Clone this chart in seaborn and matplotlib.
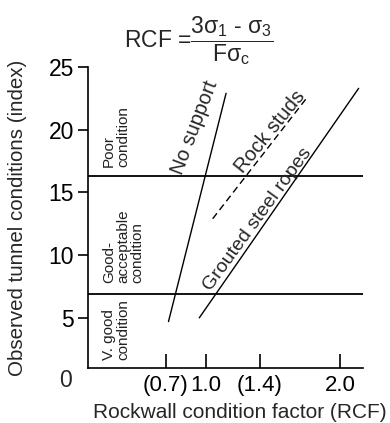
import numpy as np
import pandas as pd
import matplotlib.pyplot as plt
import matplotlib.transforms as mtransforms
import seaborn as sns

# support lines: (RCF, tunnel condition index)
no_support_rcf = [0.72, 1.15]
no_support_idx = [4.7, 22.9]
rock_studs_rcf = [1.05, 1.75]
rock_studs_idx = [12.9, 22.5]
grouted_rcf = [0.95, 2.14]
grouted_idx = [5.0, 23.3]

# boundaries between condition classes
condition_bounds = [6.9, 16.3]
condition_labels = ['V. good\ncondition', 'Good-\nacceptable\ncondition', 'Poor\ncondition']

x_ticks = [0.7, 1.0, 1.4, 2.0]
x_tick_labels = ['(0.7)', '1.0', '(1.4)', '2.0']
y_ticks = [5, 10, 15, 20, 25]

sns.set_style('ticks')
plt.rcParams['font.family'] = ['Liberation Sans', 'DejaVu Sans']
plt.rcParams['mathtext.fontset'] = 'custom'
plt.rcParams['mathtext.rm'] = 'Liberation Sans'
plt.rcParams['mathtext.it'] = 'Liberation Sans'
plt.rcParams['mathtext.bf'] = 'Liberation Sans'

fig = plt.figure(figsize=(3.9, 4.23), dpi=100)
ax = fig.add_axes([0.2256, 0.130, 0.705, 0.7116])

df_ns = pd.DataFrame({'rcf': no_support_rcf, 'idx': no_support_idx})
df_rs = pd.DataFrame({'rcf': rock_studs_rcf, 'idx': rock_studs_idx})
df_gr = pd.DataFrame({'rcf': grouted_rcf, 'idx': grouted_idx})

sns.lineplot(data=df_ns, x='rcf', y='idx', color='black', lw=1.0, ax=ax)
sns.lineplot(data=df_rs, x='rcf', y='idx', color='black', lw=1.0, ax=ax,
             linestyle=(0, (5, 3)))
sns.lineplot(data=df_gr, x='rcf', y='idx', color='black', lw=1.0, ax=ax)

for b in condition_bounds:
    ax.axhline(b, color='black', lw=1.3)

ax.set_xlim(0.119, 2.172)
ax.set_ylim(1.0, 25)
ax.set_xticks(x_ticks)
ax.set_xticklabels(x_tick_labels)
ax.set_yticks(y_ticks)

ax.tick_params(axis='x', direction='in', length=10, width=1.2, labelsize=16, pad=5,
               colors='black')
ax.tick_params(axis='y', direction='out', length=7, width=1.2, labelsize=16.5, pad=3,
               colors='black')
sns.despine(ax=ax)
for s in ['left', 'bottom']:
    ax.spines[s].set_linewidth(1.2)
    ax.spines[s].set_color('black')

# origin label sits below the axis
trans = mtransforms.blended_transform_factory(ax.transAxes, ax.transData)
ax.text(-0.058, 0, '0', transform=trans, ha='right', va='center', fontsize=16.5,
        clip_on=False)

ax.set_xlabel('Rockwall condition factor (RCF)', fontsize=15)
ax.set_ylabel('Observed tunnel conditions (index)', fontsize=14.8)
ax.xaxis.set_label_coords(0.553, -0.116)
ax.yaxis.set_label_coords(-0.222, 0.5)

# condition class labels
label_y = [1.67, 7.8, 17.0]
for txt, yy in zip(condition_labels, label_y):
    ax.text(0.224, yy, txt, rotation=90, ha='left', va='bottom', fontsize=11,
            linespacing=1.0, multialignment='left', color='#222222')

# line labels
ax.text(0.92, 20.2, 'No support', rotation=69, rotation_mode='anchor',
        ha='center', va='center', fontsize=14.5)
ax.text(1.48, 19.85, 'Rock studs', rotation=51, rotation_mode='anchor',
        ha='center', va='center', fontsize=14.5)
ax.text(1.385, 12.85, 'Grouted steel ropes', rotation=54, rotation_mode='anchor',
        ha='center', va='center', fontsize=14)

fig.text(0.508, 0.905, r'RCF =$\dfrac{3\sigma_1\text{ - }\sigma_3}{F\sigma_c}$',
         ha='center', va='center', fontsize=16.5)

plt.savefig('out.png', dpi=100)
